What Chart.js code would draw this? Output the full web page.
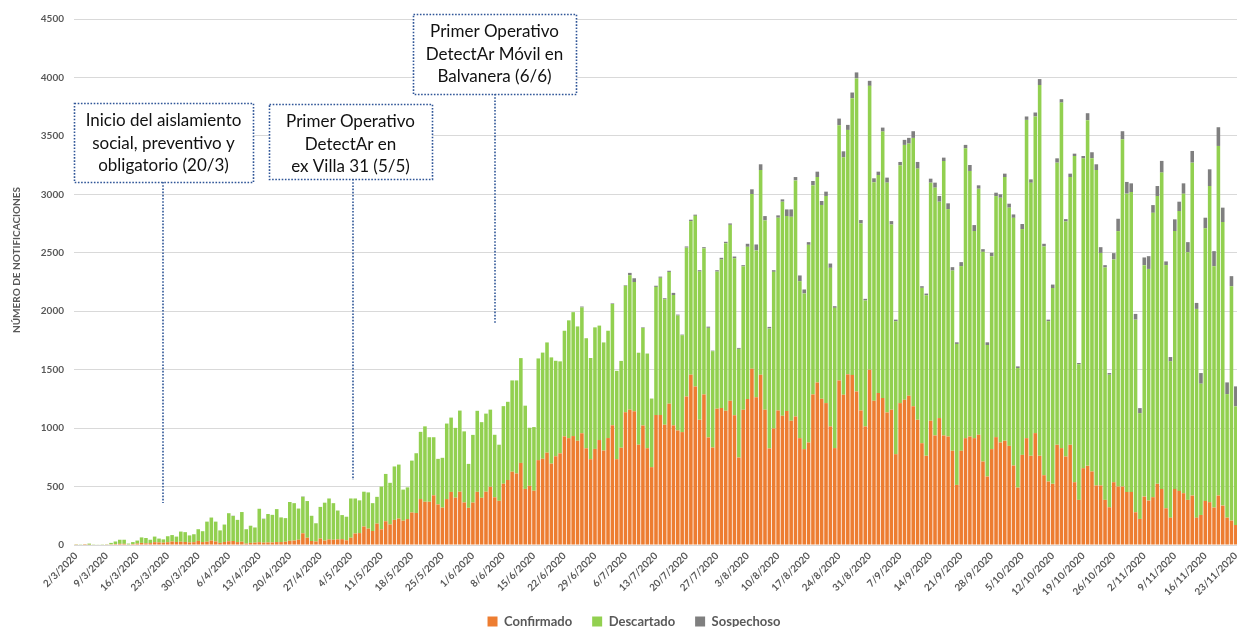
<!DOCTYPE html>
<html>
<head>
<meta charset="utf-8">
<script src="https://cdn.jsdelivr.net/npm/chart.js@4.4.1/dist/chart.umd.min.js"></script>
<style>
  html, body { margin: 0; padding: 0; background: #fff; overflow: hidden; }
  #wrap { width: 1238px; height: 638px; }
</style>
</head>
<body>
<div id="wrap"><canvas id="notificaciones" width="1238" height="638"></canvas></div>
<script>
'use strict'

// one category per day, 2/3/2020 .. 23/11/2020
const fechas = []
for (let i = 0; i < 267; i++) {
  const d = new Date(2020, 2, 2 + i)
  fechas.push(d.getDate() + '/' + (d.getMonth() + 1) + '/' + d.getFullYear())
}

const confirmado = [
  6, 4, 1, 3, 4, 4, 4, 3, 6, 8, 10, 10, 5, 8, 12, 18, 14, 16, 24, 22,
  20, 24, 30, 26, 28, 26, 22, 24, 35, 25, 28, 38, 30, 18, 26, 32, 34, 25, 28, 12,
  18, 20, 24, 20, 22, 22, 25, 25, 28, 36, 38, 45, 100, 62, 34, 30, 55, 38, 48, 45,
  48, 50, 40, 62, 98, 102, 158, 140, 120, 183, 134, 203, 176, 215, 226, 208, 222, 278, 274, 393,
  370, 370, 425, 347, 320, 393, 454, 405, 456, 364, 318, 363, 455, 404, 456, 498, 408, 378, 524, 556,
  627, 612, 702, 480, 506, 464, 726, 738, 790, 696, 759, 784, 929, 914, 932, 892, 956, 827, 734, 822,
  898, 808, 915, 1024, 734, 832, 1135, 1158, 1144, 858, 1022, 828, 666, 1112, 1113, 1029, 1209, 1023, 980, 966,
  1271, 1457, 1357, 1071, 1288, 920, 834, 1166, 1171, 1148, 1234, 1111, 748, 1157, 1248, 1508, 1263, 1457, 1157, 826,
  997, 1151, 1106, 1146, 1063, 1100, 914, 820, 877, 1288, 1391, 1251, 1214, 1014, 829, 1408, 1286, 1460, 1455, 1314,
  1151, 1014, 1500, 1234, 1300, 1257, 1134, 1157, 777, 1214, 1243, 1277, 1186, 1071, 871, 763, 1063, 937, 1086, 937,
  928, 806, 514, 806, 914, 928, 914, 943, 714, 586, 820, 923, 877, 891, 848, 680, 491, 771, 914, 763,
  957, 763, 597, 543, 523, 857, 829, 757, 857, 537, 386, 657, 677, 629, 509, 509, 386, 323, 537, 500,
  500, 454, 454, 280, 223, 414, 380, 409, 523, 480, 314, 234, 480, 463, 443, 386, 423, 234, 257, 377,
  366, 320, 423, 337, 234, 209, 171
]

const descartado = [
  2, 2, 1, 9, 2, 1, 2, 2, 12, 22, 35, 35, 7, 17, 26, 47, 46, 29, 48, 33,
  28, 51, 55, 46, 87, 84, 60, 68, 100, 93, 172, 197, 170, 107, 149, 240, 214, 190, 254, 123,
  147, 130, 286, 202, 243, 236, 282, 211, 202, 332, 320, 267, 312, 314, 216, 156, 271, 324, 350, 313,
  247, 206, 202, 336, 300, 280, 298, 310, 238, 229, 366, 405, 356, 457, 462, 266, 271, 444, 511, 575,
  645, 552, 497, 390, 426, 646, 636, 597, 694, 608, 376, 579, 693, 647, 668, 660, 535, 480, 664, 669,
  781, 796, 897, 712, 497, 545, 870, 908, 943, 909, 817, 787, 904, 1008, 1060, 978, 1076, 942, 866, 1040,
  979, 925, 918, 1038, 756, 743, 1082, 1150, 1106, 787, 835, 810, 587, 1096, 1173, 1074, 1127, 1116, 983, 829,
  1273, 1314, 1459, 1268, 1250, 938, 824, 1173, 1271, 1434, 1505, 1342, 930, 1227, 1303, 1495, 1257, 1751, 1620, 1026,
  1340, 1649, 1831, 1668, 1745, 2019, 1343, 1332, 1691, 1789, 1757, 1658, 1772, 1357, 1200, 2183, 2031, 2091, 2367, 2678,
  1600, 1078, 2428, 1869, 1865, 2280, 1966, 1585, 1137, 2034, 2180, 2157, 2297, 2149, 1329, 1374, 2037, 2120, 1851, 2348,
  1946, 1542, 1206, 1580, 2480, 2272, 1772, 2105, 1794, 1125, 1651, 2062, 2094, 2257, 2038, 2119, 1023, 1932, 2723, 2336,
  2709, 3172, 1957, 1371, 1675, 2414, 2956, 2011, 2291, 2791, 1161, 2651, 2957, 2680, 2699, 1990, 1988, 1134, 1906, 2185,
  2971, 2552, 2566, 1648, 905, 1980, 1982, 2433, 2462, 2706, 2081, 1337, 2206, 2394, 2562, 2119, 2848, 1786, 1123, 2332,
  2705, 2065, 2991, 2426, 1057, 2005, 1015
]

const sospechoso = [
  0, 0, 0, 0, 0, 0, 0, 0, 0, 0, 0, 0, 0, 0, 0, 0, 0, 0, 0, 0,
  0, 0, 0, 0, 0, 0, 0, 0, 0, 0, 0, 0, 0, 0, 0, 0, 2, 0, 0, 0,
  0, 0, 0, 3, 0, 0, 0, 0, 0, 0, 0, 0, 3, 0, 0, 0, 0, 0, 0, 0,
  0, 0, 0, 0, 0, 0, 0, 0, 0, 0, 0, 0, 0, 0, 0, 0, 0, 0, 0, 0,
  0, 0, 0, 0, 0, 0, 0, 0, 0, 0, 0, 0, 0, 0, 0, 0, 0, 0, 0, 0,
  0, 0, 0, 0, 0, 0, 0, 0, 0, 0, 0, 0, 0, 0, 0, 0, 8, 0, 0, 0,
  0, 0, 0, 5, 0, 0, 5, 20, 32, 0, 5, 0, 0, 10, 10, 8, 10, 18, 8, 5,
  10, 12, 10, 12, 10, 10, 5, 12, 15, 12, 12, 15, 8, 10, 26, 40, 51, 49, 37, 14,
  14, 20, 20, 57, 63, 29, 49, 34, 23, 37, 46, 34, 37, 37, 14, 57, 51, 43, 49, 51,
  29, 14, 43, 34, 29, 34, 43, 29, 14, 29, 43, 49, 57, 57, 14, 14, 34, 43, 49, 29,
  49, 29, 14, 34, 29, 51, 51, 29, 23, 23, 29, 29, 29, 29, 34, 29, 14, 43, 29, 29,
  34, 51, 23, 14, 30, 37, 29, 20, 29, 20, 10, 20, 60, 51, 49, 49, 20, 14, 54, 106,
  69, 100, 74, 49, 43, 66, 109, 66, 86, 100, 31, 37, 100, 80, 89, 86, 100, 51, 91, 91,
  143, 129, 160, 123, 100, 86, 171
]

const yTicks = [0, 500, 1000, 1500, 2000, 2500, 3000, 3500, 4000, 4500]

// callouts: category index for the leader line, value where it stops
const notas = [
  { texto: ['Inicio del aislamiento', 'social, preventivo y', 'obligatorio (20/3)'], caja: 20, linea: 20, tope: 3780, fin: 360, ancho: 179, alto: 79 },
  { texto: ['Primer Operativo', 'DetectAr en', 'ex Villa 31 (5/5)'], caja: 63, linea: 63.5, tope: 3775, fin: 556, ancho: 163, alto: 75 },
  { texto: ['Primer Operativo', 'DetectAr Móvil en', 'Balvanera (6/6)'], caja: 96, linea: 96, tope: 4545, fin: 1900, ancho: 163, alto: 80 }
]

const gris = '#595959'
const fuente = 'Lato, "Open Sans", sans-serif'

const notasPlugin = {
  id: 'notas',
  afterLayout (chart) {
    // legend sits a bit right of centre in the original
    chart.legend.left += 15
    chart.legend.right += 15
  },
  afterDraw (chart) {
    const { ctx } = chart
    const x = chart.scales.x
    const y = chart.scales.y
    ctx.save()
    ctx.strokeStyle = '#2F5597'
    ctx.lineWidth = 1.6
    ctx.setLineDash([1.6, 1.6])
    notas.forEach(n => {
      const lx = Math.round(x.getPixelForValue(n.linea))
      const top = Math.round(y.getPixelForValue(n.tope))
      ctx.beginPath()
      ctx.moveTo(lx, top + n.alto)
      ctx.lineTo(lx, y.getPixelForValue(n.fin))
      ctx.stroke()
      const left = Math.round(x.getPixelForValue(n.caja) - n.ancho / 2)
      ctx.fillStyle = '#fff'
      ctx.fillRect(left, top, n.ancho, n.alto)
      ctx.strokeRect(left + 0.5, top + 0.5, n.ancho, n.alto)
      ctx.fillStyle = '#111'
      ctx.font = '17px ' + fuente
      ctx.textAlign = 'center'
      ctx.textBaseline = 'middle'
      n.texto.forEach((t, k) => {
        ctx.fillText(t, left + n.ancho / 2, top + 18 + k * 22.5)
      })
    })
    ctx.setLineDash([])
    // y axis title
    ctx.translate(17, (chart.chartArea.top + chart.chartArea.bottom) / 2 - 22)
    ctx.rotate(-Math.PI / 2)
    ctx.font = 'bold 10px ' + fuente
    ctx.fillStyle = gris
    ctx.textAlign = 'center'
    ctx.textBaseline = 'middle'
    ctx.fillText('NÚMERO DE NOTIFICACIONES', 0, 0)
    ctx.restore()
  }
}

const ctx = document.getElementById('notificaciones').getContext('2d')
const chart = new Chart(ctx, {
  type: 'bar',
  data: {
    labels: fechas,
    datasets: [
      { label: 'Confirmado', data: confirmado, backgroundColor: '#ED7D31' },
      { label: 'Descartado', data: descartado, backgroundColor: '#92D050' },
      { label: 'Sospechoso', data: sospechoso, backgroundColor: '#7F7F7F' }
    ]
  },
  options: {
    responsive: false,
    animation: false,
    categoryPercentage: 1,
    barPercentage: 0.82,
    layout: { padding: { top: 19, left: 0, right: 0, bottom: 0 } },
    plugins: {
      legend: {
        position: 'bottom',
        labels: {
          boxWidth: 10,
          boxHeight: 10,
          padding: 20,
          color: gris,
          font: { family: fuente, size: 13, weight: 'bold' }
        }
      },
      tooltip: { enabled: false }
    },
    scales: {
      x: {
        stacked: true,
        grid: { display: false, drawTicks: false },
        border: { color: '#d9d9d9' },
        ticks: {
          autoSkip: false,
          minRotation: 45,
          maxRotation: 45,
          padding: 5,
          color: gris,
          font: { family: fuente, size: 10, weight: 'bold' },
          callback: (v, i) => (i % 7 === 0 ? fechas[i] : '')
        },
        afterFit (scale) {
          scale.height = 50
          scale.paddingLeft = 0
          scale.paddingRight = 0
        }
      },
      y: {
        stacked: true,
        min: 0,
        max: 4500,
        afterBuildTicks (scale) {
          scale.ticks = yTicks.map(v => ({ value: v }))
        },
        grid: { color: '#d9d9d9', drawTicks: false },
        border: { display: false },
        ticks: {
          padding: 10,
          color: gris,
          font: { family: fuente, size: 10, weight: 'bold' },
          callback: v => String(v)
        },
        afterFit (scale) {
          scale.width = 74
        }
      }
    }
  },
  plugins: [notasPlugin]
})
</script>
</body>
</html>
